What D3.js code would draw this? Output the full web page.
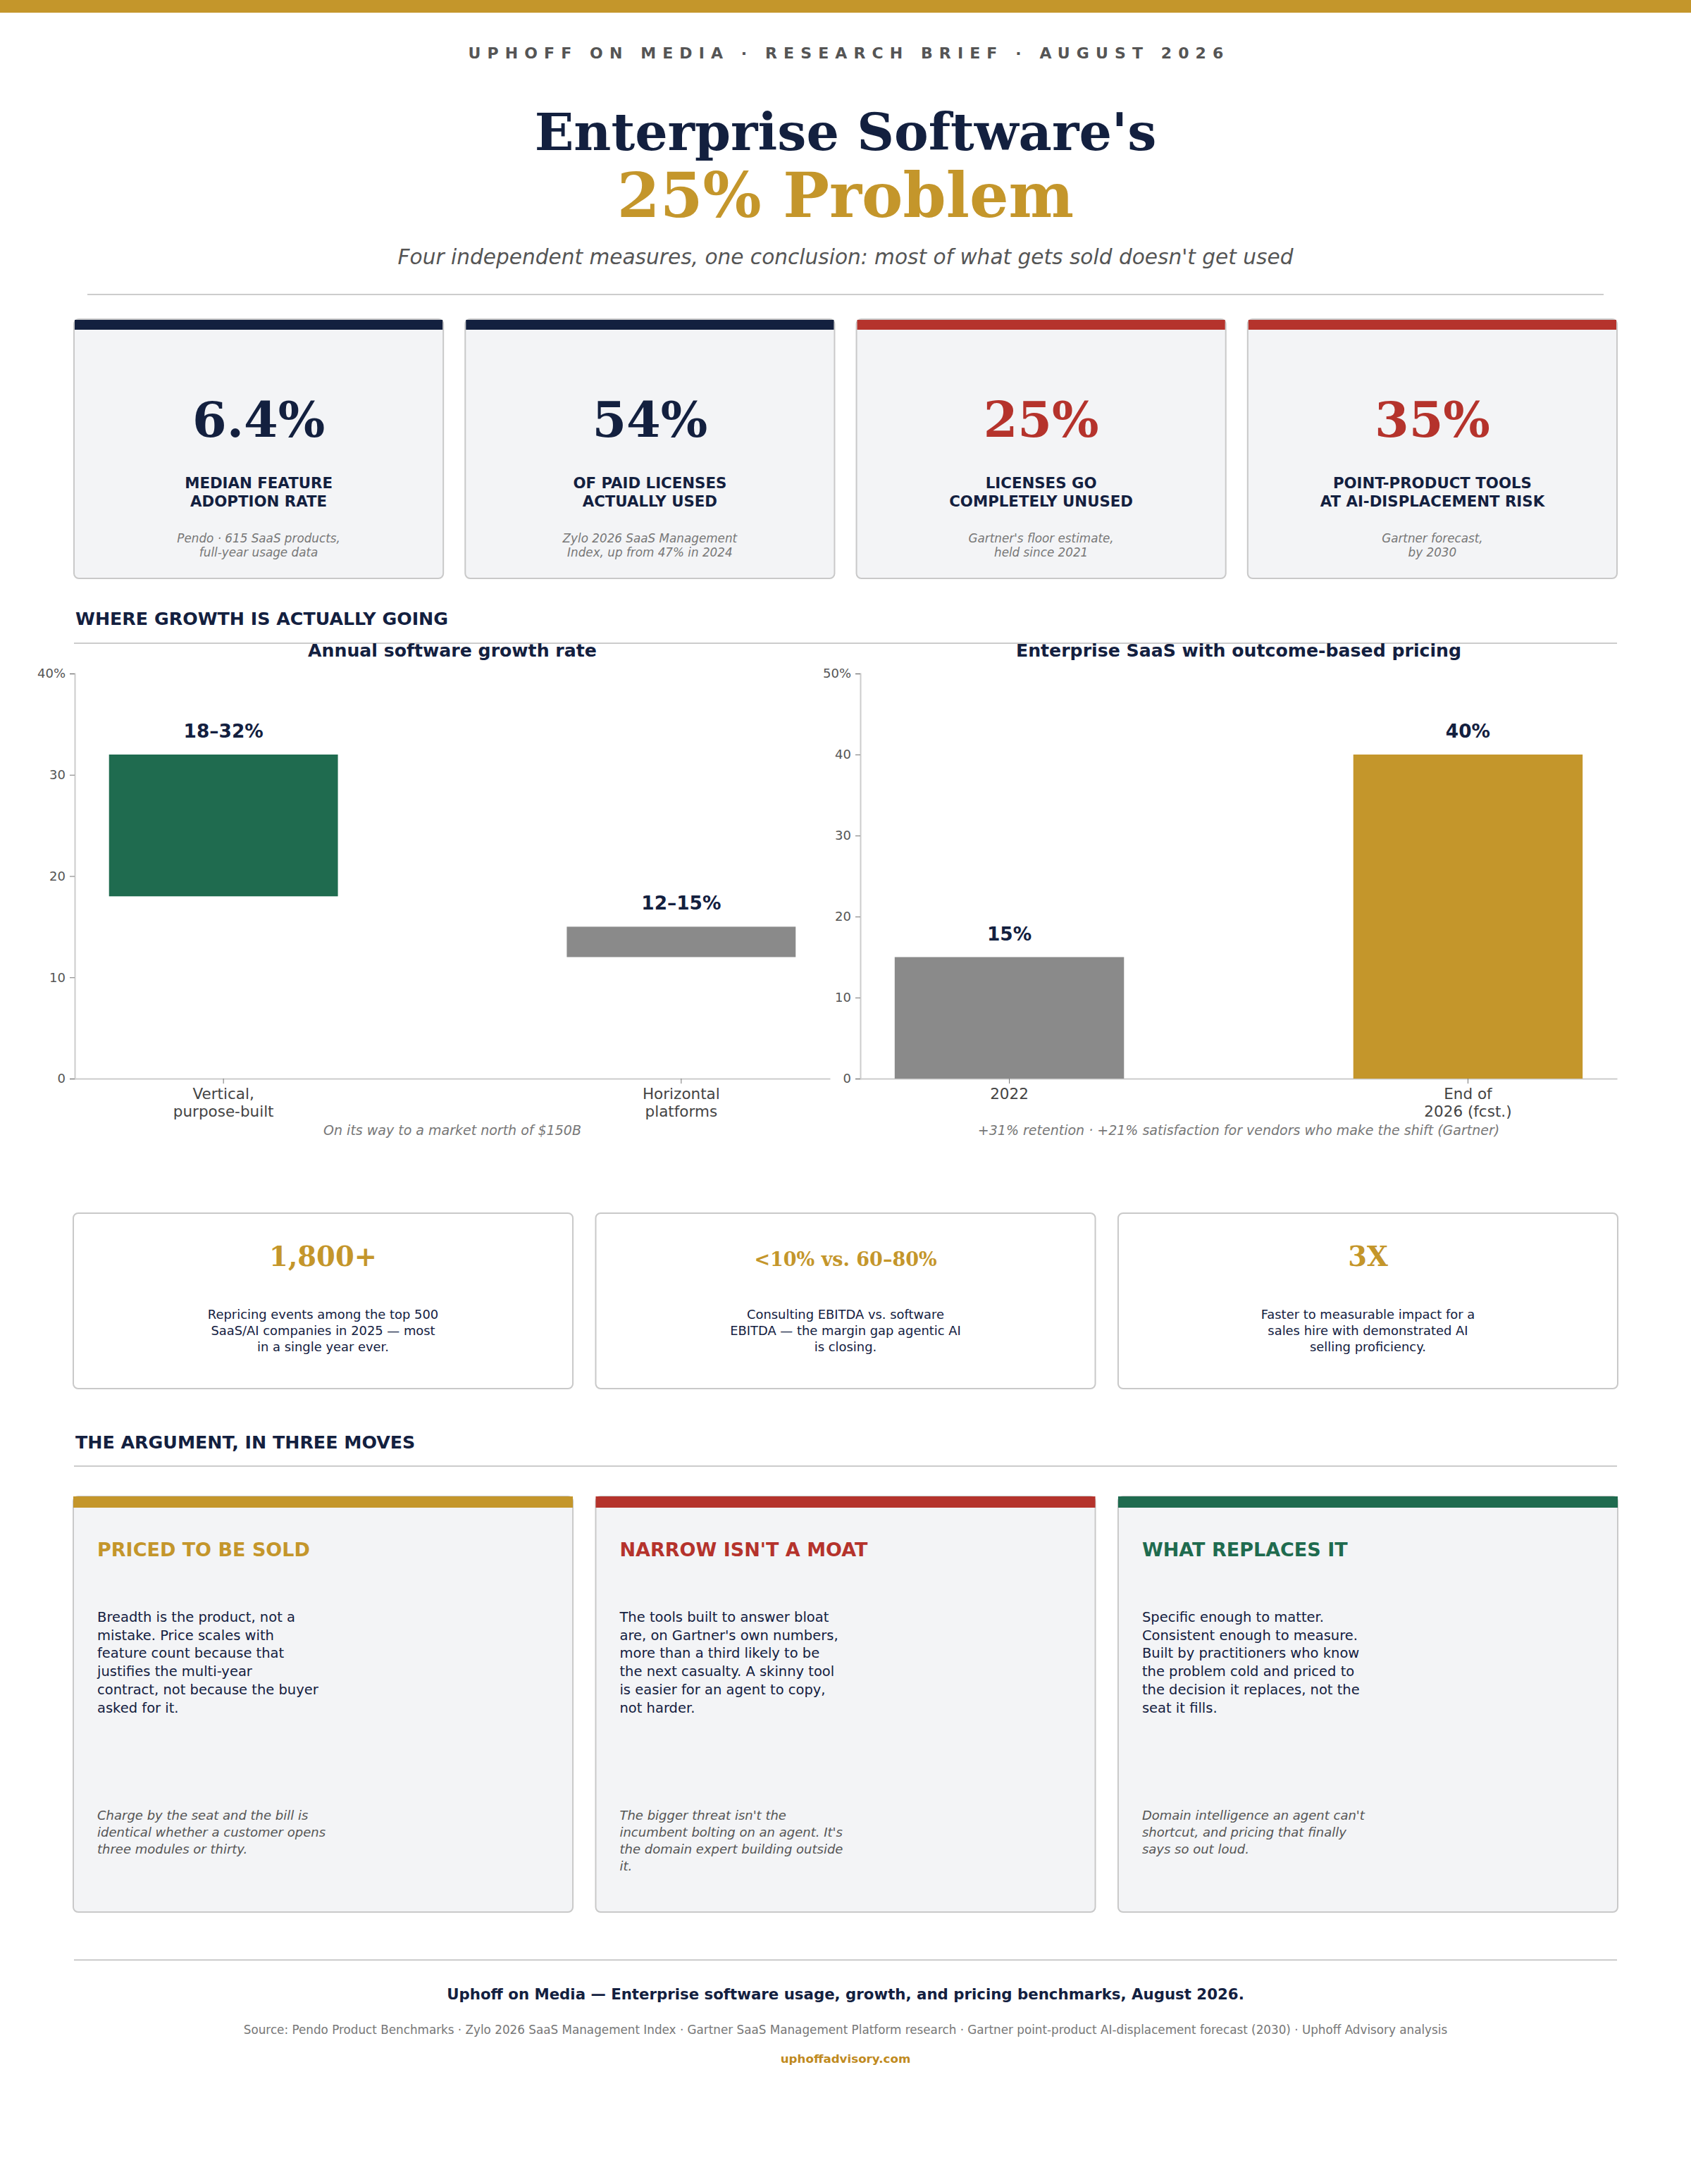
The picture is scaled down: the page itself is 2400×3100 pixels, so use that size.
<!DOCTYPE html>
<html>
<head>
<meta charset="utf-8">
<script src="https://cdn.jsdelivr.net/npm/d3@7"></script>
<style>
  body { margin: 0; background: #fff; }
  svg { display: block; }
</style>
</head>
<body>
<svg id="page" width="2400" height="3100"></svg>
<script>
// ---- data ----
const kicker = 'UPHOFF ON MEDIA · RESEARCH BRIEF · AUGUST 2026';
const titleLines = ["Enterprise Software's", '25% Problem'];
const subtitle = "Four independent measures, one conclusion: most of what gets sold doesn't get used";

const kpiValues = ['6.4%', '54%', '25%', '35%'];
const kpiLabels = [
  ['MEDIAN FEATURE', 'ADOPTION RATE'],
  ['OF PAID LICENSES', 'ACTUALLY USED'],
  ['LICENSES GO', 'COMPLETELY UNUSED'],
  ['POINT-PRODUCT TOOLS', 'AT AI-DISPLACEMENT RISK']
];
const kpiNotes = [
  ['Pendo · 615 SaaS products,', 'full-year usage data'],
  ['Zylo 2026 SaaS Management', 'Index, up from 47% in 2024'],
  ["Gartner's floor estimate,", 'held since 2021'],
  ['Gartner forecast,', 'by 2030']
];

const growthCats = [['Vertical,', 'purpose-built'], ['Horizontal', 'platforms']];
const growthLow = [18, 12];
const growthHigh = [32, 15];
const growthLabels = ['18–32%', '12–15%'];
const growthTicks = [0, 10, 20, 30, 40];

const pricingCats = [['2022'], ['End of', '2026 (fcst.)']];
const pricingValues = [15, 40];
const pricingLabels = ['15%', '40%'];
const pricingTicks = [0, 10, 20, 30, 40, 50];

const statValues = ['1,800+', '<10% vs. 60–80%', '3X'];
const statText = [
  ['Repricing events among the top 500', 'SaaS/AI companies in 2025 — most', 'in a single year ever.'],
  ['Consulting EBITDA vs. software', 'EBITDA — the margin gap agentic AI', 'is closing.'],
  ['Faster to measurable impact for a', 'sales hire with demonstrated AI', 'selling proficiency.']
];

const argTitles = ['PRICED TO BE SOLD', "NARROW ISN'T A MOAT", 'WHAT REPLACES IT'];
const argBody = [
  ['Breadth is the product, not a', 'mistake. Price scales with', 'feature count because that', 'justifies the multi-year', 'contract, not because the buyer', 'asked for it.'],
  ['The tools built to answer bloat', "are, on Gartner's own numbers,", 'more than a third likely to be', 'the next casualty. A skinny tool', 'is easier for an agent to copy,', 'not harder.'],
  ['Specific enough to matter.', 'Consistent enough to measure.', 'Built by practitioners who know', 'the problem cold and priced to', 'the decision it replaces, not the', 'seat it fills.']
];
const argNotes = [
  ['Charge by the seat and the bill is', 'identical whether a customer opens', 'three modules or thirty.'],
  ["The bigger threat isn't the", "incumbent bolting on an agent. It's", 'the domain expert building outside', 'it.'],
  ["Domain intelligence an agent can't", 'shortcut, and pricing that finally', 'says so out loud.']
];

const footerLine = 'Uphoff on Media — Enterprise software usage, growth, and pricing benchmarks, August 2026.';
const sourceLine = 'Source: Pendo Product Benchmarks · Zylo 2026 SaaS Management Index · Gartner SaaS Management Platform research · Gartner point-product AI-displacement forecast (2030) · Uphoff Advisory analysis';
const urlLine = 'uphoffadvisory.com';

// ---- style ----
const NAVY = '#13203f', GOLD = '#c4962b', RED = '#b5332c', GREEN = '#1f6b4f', GREYBAR = '#8a8a8a';
const CARD = '#f3f4f6', EDGE = '#c9c9c9', RULE = '#cccccc';
const SANS = '"DejaVu Sans", sans-serif', SERIF = '"DejaVu Serif", serif';
const kpiAccent = [NAVY, NAVY, RED, RED];
const argAccent = [GOLD, RED, GREEN];

const svg = d3.select('#page');
svg.append('rect').attr('width', 2400).attr('height', 3100).attr('fill', '#fff');

function lines(g, arr, x, y, step, anchor) {
  const t = g.append('text').attr('x', x).attr('y', y).attr('text-anchor', anchor || 'start');
  arr.forEach((s, i) => t.append('tspan').attr('x', x).attr('y', y + i * step).text(s));
  return t;
}

// Header
svg.append('rect').attr('x', 0).attr('y', 0).attr('width', 2400).attr('height', 18).attr('fill', GOLD);
svg.append('text').attr('x', 1205).attr('y', 83).attr('text-anchor', 'middle')
  .style('font', `bold 22px ${SANS}`).style('letter-spacing', '9.1px').attr('fill', '#555').text(kicker);
svg.append('text').attr('x', 1200).attr('y', 213).attr('text-anchor', 'middle')
  .style('font', `bold 73px ${SERIF}`).attr('fill', NAVY).text(titleLines[0]);
svg.append('text').attr('x', 1200).attr('y', 308).attr('text-anchor', 'middle')
  .style('font', `bold 87.5px ${SERIF}`).attr('fill', GOLD).text(titleLines[1]);
svg.append('text').attr('x', 1200).attr('y', 375).attr('text-anchor', 'middle')
  .style('font', `italic 29.6px ${SANS}`).attr('fill', '#555').text(subtitle);
svg.append('line').attr('x1', 124).attr('x2', 2276).attr('y1', 418).attr('y2', 418)
  .attr('stroke', RULE).attr('stroke-width', 2);

// KPI cards
const kpiX = d3.scaleBand().domain(d3.range(kpiValues.length)).range([105, 2295]).paddingInner(0.056);
kpiValues.forEach((v, i) => {
  const x = kpiX(i), w = kpiX.bandwidth(), cx = x + w / 2;
  const g = svg.append('g');
  g.append('rect').attr('x', x).attr('y', 453).attr('width', w).attr('height', 368).attr('rx', 7)
    .attr('fill', CARD).attr('stroke', EDGE).attr('stroke-width', 2);
  g.append('rect').attr('x', x + 1).attr('y', 454).attr('width', w - 2).attr('height', 14).attr('fill', kpiAccent[i]);
  g.append('text').attr('x', cx).attr('y', 620).attr('text-anchor', 'middle')
    .style('font', `bold 70px ${SERIF}`).attr('fill', kpiAccent[i]).text(v);
  lines(g, kpiLabels[i], cx, 693, 26, 'middle').style('font', `bold 21.3px ${SANS}`).attr('fill', NAVY);
  lines(g, kpiNotes[i], cx, 770, 20, 'middle').style('font', `italic 16.8px ${SANS}`).attr('fill', '#777');
});

// Section heading helper
function section(label, y, ry) {
  svg.append('text').attr('x', 107).attr('y', y).style('font', `bold 25.3px ${SANS}`).attr('fill', NAVY).text(label);
  svg.append('line').attr('x1', 105).attr('x2', 2295).attr('y1', ry).attr('y2', ry)
    .attr('stroke', RULE).attr('stroke-width', 2);
}
section('WHERE GROWTH IS ACTUALLY GOING', 887, 913);

// Bar charts
function barChart(opt) {
  const g = svg.append('g');
  const x = d3.scaleBand().domain(d3.range(opt.cats.length)).range([opt.x0, opt.x1])
    .paddingInner(0.5).paddingOuter(0.075);
  const top = d3.max(opt.ticks);
  const y = d3.scaleLinear().domain([0, top]).range([1531, 956]);

  g.append('text').attr('x', (opt.x0 + opt.x1) / 2).attr('y', 932).attr('text-anchor', 'middle')
    .style('font', `bold 25.2px ${SANS}`).attr('fill', NAVY).text(opt.title);

  const ya = g.append('g').attr('transform', `translate(${opt.x0},0)`)
    .call(d3.axisLeft(y).tickValues(opt.ticks).tickSize(7).tickPadding(6)
      .tickFormat(d => d === top ? d + '%' : d));
  ya.select('.domain').attr('stroke', RULE).attr('stroke-width', 2);
  ya.selectAll('.tick line').attr('stroke', '#777');
  ya.selectAll('.tick text').style('font', `18px ${SANS}`).attr('fill', '#555');

  const xa = g.append('g').attr('transform', 'translate(0,1531)')
    .call(d3.axisBottom(x).tickSize(7).tickSizeOuter(0).tickFormat(''));
  xa.select('.domain').attr('stroke', RULE).attr('stroke-width', 2);
  xa.selectAll('.tick line').attr('stroke', '#777');
  xa.selectAll('.tick').each(function (d) {
    lines(d3.select(this), opt.cats[d], 0, 29, 25, 'middle').style('font', `21.5px ${SANS}`).attr('fill', '#444');
  });

  g.selectAll('rect.bar').data(opt.high).join('rect').attr('class', 'bar')
    .attr('x', (d, i) => x(i)).attr('width', x.bandwidth())
    .attr('y', d => y(d)).attr('height', (d, i) => y(opt.low[i]) - y(d))
    .attr('fill', (d, i) => opt.colors[i]);

  g.selectAll('text.val').data(opt.high).join('text').attr('class', 'val')
    .attr('x', (d, i) => x(i) + x.bandwidth() / 2).attr('y', d => y(d) - 24)
    .attr('text-anchor', 'middle').style('font', `bold 26.4px ${SANS}`).attr('fill', NAVY)
    .text((d, i) => opt.labels[i]);

  g.append('text').attr('x', (opt.x0 + opt.x1) / 2).attr('y', 1611).attr('text-anchor', 'middle')
    .style('font', `italic 19px ${SANS}`).attr('fill', '#777').text(opt.caption);
}

barChart({
  x0: 106, x1: 1178, cats: growthCats, low: growthLow, high: growthHigh, labels: growthLabels,
  ticks: growthTicks, colors: [GREEN, GREYBAR], title: 'Annual software growth rate',
  caption: 'On its way to a market north of $150B'
});
barChart({
  x0: 1221, x1: 2295, cats: pricingCats, low: pricingValues.map(() => 0), high: pricingValues,
  labels: pricingLabels, ticks: pricingTicks, colors: [GREYBAR, GOLD],
  title: 'Enterprise SaaS with outcome-based pricing',
  caption: '+31% retention · +21% satisfaction for vendors who make the shift (Gartner)'
});

// Stat cards
const statX = d3.scaleBand().domain(d3.range(statValues.length)).range([104, 2296]).paddingInner(0.0437);
statValues.forEach((v, i) => {
  const x = statX(i), w = statX.bandwidth(), cx = x + w / 2;
  const g = svg.append('g');
  g.append('rect').attr('x', x).attr('y', 1722).attr('width', w).attr('height', 249).attr('rx', 7)
    .attr('fill', '#fff').attr('stroke', EDGE).attr('stroke-width', 2);
  g.append('text').attr('x', cx).attr('y', 1797).attr('text-anchor', 'middle')
    .style('font', `bold ${v.length > 8 ? 27 : 38.5}px ${SERIF}`).attr('fill', GOLD).text(v);
  lines(g, statText[i], cx, 1872, 23, 'middle').style('font', `17.9px ${SANS}`).attr('fill', NAVY);
});

// Argument cards
section('THE ARGUMENT, IN THREE MOVES', 2056, 2081);
argTitles.forEach((t, i) => {
  const x = statX(i), w = statX.bandwidth();
  const g = svg.append('g');
  g.append('rect').attr('x', x).attr('y', 2124).attr('width', w).attr('height', 590).attr('rx', 7)
    .attr('fill', CARD).attr('stroke', EDGE).attr('stroke-width', 2);
  g.append('rect').attr('x', x).attr('y', 2124).attr('width', w).attr('height', 16).attr('fill', argAccent[i]);
  g.append('text').attr('x', x + 34).attr('y', 2209).style('font', `bold 27px ${SANS}`)
    .attr('fill', argAccent[i]).text(t);
  lines(g, argBody[i], x + 34, 2302, 25.7).style('font', `19.5px ${SANS}`).attr('fill', NAVY);
  lines(g, argNotes[i], x + 34, 2583, 24).style('font', `italic 18px ${SANS}`).attr('fill', '#555');
});

// Footer
svg.append('line').attr('x1', 105).attr('x2', 2295).attr('y1', 2782).attr('y2', 2782)
  .attr('stroke', RULE).attr('stroke-width', 2);
svg.append('text').attr('x', 1200).attr('y', 2838).attr('text-anchor', 'middle')
  .style('font', `bold 21.3px ${SANS}`).attr('fill', NAVY).text(footerLine);
svg.append('text').attr('x', 1200).attr('y', 2887).attr('text-anchor', 'middle')
  .style('font', `16.8px ${SANS}`).attr('fill', '#777').text(sourceLine);
svg.append('text').attr('x', 1200).attr('y', 2928).attr('text-anchor', 'middle')
  .style('font', `bold 16.7px ${SANS}`).attr('fill', '#c08a1e').text(urlLine);
</script>
</body>
</html>
